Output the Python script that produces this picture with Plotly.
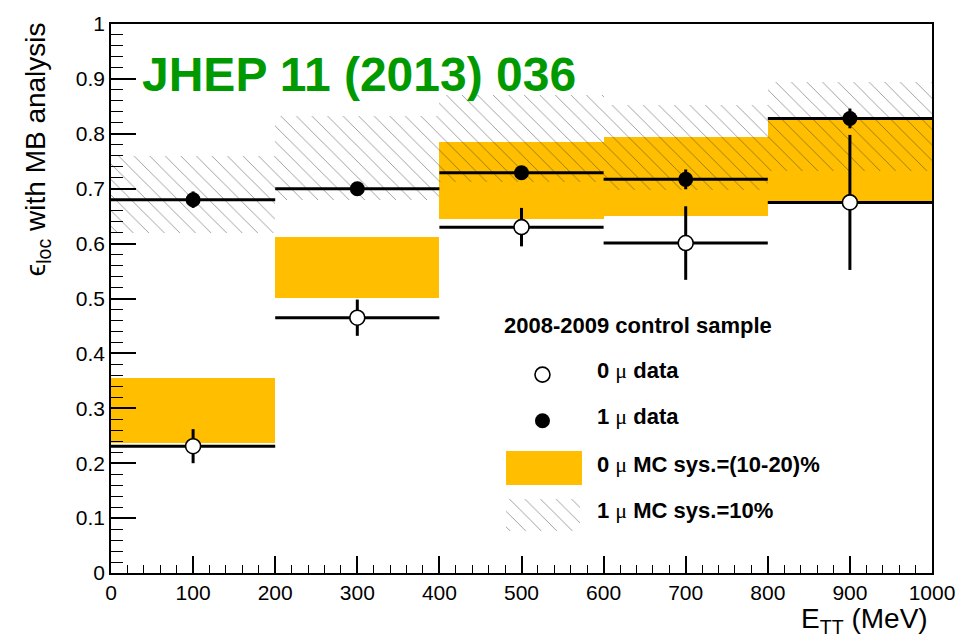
import plotly.graph_objects as go

# ---------------- data ----------------
bin_centers = [100, 300, 500, 700, 900]
bin_half_width = [100, 100, 100, 100, 100]
bin_width = [200, 200, 200, 200, 200]

mu0_data = [0.231, 0.465, 0.630, 0.601, 0.675]
mu0_err = [0.031, 0.033, 0.035, 0.067, 0.123]

mu1_data = [0.680, 0.700, 0.729, 0.717, 0.828]
mu1_err = [0.015, 0.010, 0.012, 0.018, 0.018]

mc0_low = [0.237, 0.501, 0.644, 0.651, 0.674]
mc0_high = [0.356, 0.612, 0.785, 0.794, 0.827]

mc1_low = [0.620, 0.680, 0.712, 0.698, 0.733]
mc1_high = [0.760, 0.832, 0.870, 0.853, 0.894]

x_ticks = [0, 100, 200, 300, 400, 500, 600, 700, 800, 900, 1000]
y_ticks = [0, 0.1, 0.2, 0.3, 0.4, 0.5, 0.6, 0.7, 0.8, 0.9, 1.0]
y_tick_text = ["0", "0.1", "0.2", "0.3", "0.4", "0.5", "0.6", "0.7", "0.8", "0.9", "1"]

legend_header = "2008-2009 control sample"
legend_labels = ["0 μ data", "1 μ data", "0 μ MC sys.=(10-20)%", "1 μ MC sys.=10%"]

# ---------------- styles ----------------
ORANGE = "#FFBE00"
GREEN = "#009A00"
FONT = "Liberation Sans"
HATCH = dict(shape="\\", fgcolor="#2a2a2a", bgcolor="rgba(0,0,0,0)",
             size=11, solidity=0.08, fillmode="overlay")

W, H = 967, 637
L, R, T, B = 111, 34, 14, 64
PW, PH = W - L - R, H - T - B


def px2paper_x(px):
    return (px - L) / PW


def px2paper_y(py):
    return (H - B - py) / PH


fig = go.Figure()

# orange 0-mu MC band
fig.add_trace(go.Bar(
    x=bin_centers, base=mc0_low,
    y=[h - l for h, l in zip(mc0_high, mc0_low)],
    width=bin_width, marker=dict(color=ORANGE, line=dict(width=0)),
    showlegend=False, hoverinfo="skip"))

# hatched 1-mu MC band
fig.add_trace(go.Bar(
    x=bin_centers, base=mc1_low,
    y=[h - l for h, l in zip(mc1_high, mc1_low)],
    width=bin_width,
    marker=dict(color="rgba(0,0,0,0)", line=dict(width=0), pattern=HATCH),
    showlegend=False, hoverinfo="skip"))

# 0 mu data
fig.add_trace(go.Scatter(
    x=bin_centers, y=mu0_data, mode="markers",
    marker=dict(symbol="circle", size=15, color="white",
                line=dict(color="black", width=1.6)),
    error_x=dict(type="data", array=bin_half_width, color="black", thickness=3, width=0),
    error_y=dict(type="data", array=mu0_err, color="black", thickness=3, width=0),
    showlegend=False))

# 1 mu data
fig.add_trace(go.Scatter(
    x=bin_centers, y=mu1_data, mode="markers",
    marker=dict(symbol="circle", size=15, color="black"),
    error_x=dict(type="data", array=bin_half_width, color="black", thickness=3, width=0),
    error_y=dict(type="data", array=mu1_err, color="black", thickness=3, width=0),
    showlegend=False))

# ---------------- legend (drawn on a hidden helper axis, pixel units) ----------------
LX0, LX1, LY0, LY1 = 495, 610, 340, 540
fig.add_trace(go.Scatter(x=[543], y=[371], mode="markers", xaxis="x2", yaxis="y2",
                         marker=dict(symbol="circle", size=15, color="white",
                                     line=dict(color="black", width=1.6)),
                         showlegend=False, hoverinfo="skip"))
fig.add_trace(go.Scatter(x=[543], y=[418], mode="markers", xaxis="x2", yaxis="y2",
                         marker=dict(symbol="circle", size=15, color="black"),
                         showlegend=False, hoverinfo="skip"))
fig.add_trace(go.Bar(x=[544], base=[449], y=[35], width=[76], xaxis="x2", yaxis="y2",
                     marker=dict(color=ORANGE, line=dict(width=0)),
                     showlegend=False, hoverinfo="skip"))
fig.add_trace(go.Bar(x=[543], base=[498], y=[32], width=[74], xaxis="x2", yaxis="y2",
                     marker=dict(color="rgba(0,0,0,0)", line=dict(width=0), pattern=HATCH),
                     showlegend=False, hoverinfo="skip"))

annotations = []
annotations.append(dict(text="<b>" + legend_header + "</b>", x=px2paper_x(502), y=px2paper_y(321),
                        xref="paper", yref="paper", xanchor="left", yanchor="middle",
                        showarrow=False, font=dict(family=FONT, size=22, color="black")))
entry_y = [367, 414, 463, 509]


def mu_label(s):
    parts = s.split("μ")
    mu = "<span style='font-family:Liberation Serif;font-weight:normal'>μ</span>"
    return "<b>" + parts[0] + "</b>" + mu + "<b>" + parts[1] + "</b>"


for lab, ey in zip(legend_labels, entry_y):
    annotations.append(dict(text=mu_label(lab), x=px2paper_x(596), y=px2paper_y(ey),
                            xref="paper", yref="paper", xanchor="left", yanchor="middle",
                            showarrow=False, font=dict(family=FONT, size=22, color="black")))

# big green stamp
annotations.append(dict(text="<b>JHEP 11 (2013) 036</b>", x=px2paper_x(359), y=px2paper_y(65),
                        xref="paper", yref="paper", xanchor="center", yanchor="middle",
                        showarrow=False, font=dict(family=FONT, size=48, color=GREEN)))

# axis titles
annotations.append(dict(text="ϵ<sub>loc</sub> with MB analysis", x=px2paper_x(37), y=px2paper_y(10),
                        xref="paper", yref="paper", xanchor="center", yanchor="top",
                        textangle=-90, showarrow=False,
                        font=dict(family=FONT, size=28, color="black")))
annotations.append(dict(text="E<sub>TT</sub> (MeV)", x=px2paper_x(931), y=px2paper_y(621),
                        xref="paper", yref="paper", xanchor="right", yanchor="middle",
                        showarrow=False, font=dict(family=FONT, size=28, color="black")))

fig.update_layout(
    width=W, height=H, autosize=False,
    margin=dict(l=L, r=R, t=T, b=B, pad=0),
    paper_bgcolor="white", plot_bgcolor="white",
    barmode="overlay", bargap=0,
    font=dict(family=FONT, size=21, color="black"),
    showlegend=False,
    annotations=annotations,
    xaxis=dict(range=[0, 1000], tickvals=x_ticks, ticks="inside", ticklen=17, tickwidth=1.5,
               tickcolor="black", showline=True, linecolor="black", linewidth=1.5, mirror=True,
               showgrid=False, zeroline=False,
               minor=dict(dtick=20, ticks="inside", ticklen=8, tickwidth=1.2, tickcolor="black"),
               tickfont=dict(family=FONT, size=21, color="black")),
    yaxis=dict(range=[0, 1], tickvals=y_ticks, ticktext=y_tick_text, ticks="inside",
               ticklen=25, tickwidth=1.5, tickcolor="black",
               showline=True, linecolor="black", linewidth=1.5, mirror=True,
               showgrid=False, zeroline=False,
               minor=dict(dtick=0.02, ticks="inside", ticklen=12, tickwidth=1.2, tickcolor="black"),
               tickfont=dict(family=FONT, size=21, color="black")),
    xaxis2=dict(domain=[px2paper_x(LX0), px2paper_x(LX1)], range=[LX0, LX1], visible=False,
                anchor="y2", fixedrange=True),
    yaxis2=dict(domain=[px2paper_y(LY1), px2paper_y(LY0)], range=[LY1, LY0], visible=False,
                anchor="x2", fixedrange=True),
)

fig.write_html("out.html")
